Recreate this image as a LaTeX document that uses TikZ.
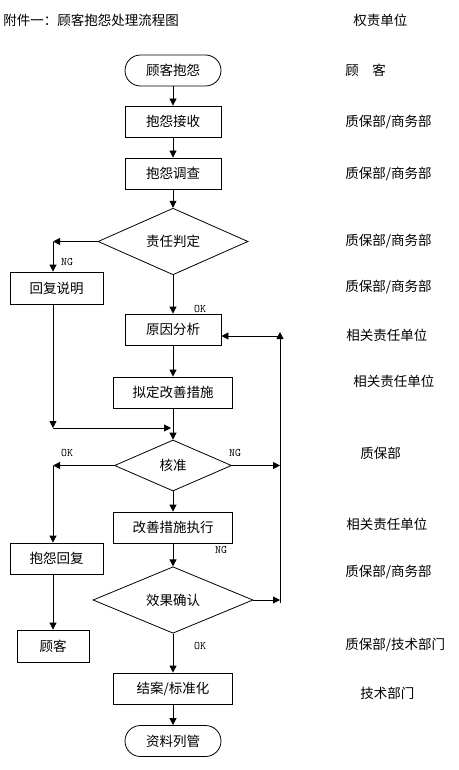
\documentclass[tikz,border=0pt]{standalone}
\usepackage{fontspec}
\setmainfont{Noto Sans CJK SC}
\usetikzlibrary{arrows.meta,shapes.geometric}
\begin{document}
\begin{tikzpicture}[x=1pt,y=-1pt,
  font=\fontsize{13.5}{16}\selectfont, line width=0.8pt,
  box/.style={draw, rectangle, inner sep=0pt, minimum width=96pt, minimum height=31pt},
  term/.style={draw, rectangle, rounded corners=15.5pt, inner sep=0pt, minimum width=96pt, minimum height=31pt},
  dia/.style={draw, diamond, inner sep=0pt},
  arr/.style={-{Triangle[length=7pt,width=7pt]}},
  lab/.style={font=\ttfamily\fontsize{11.5}{12}\selectfont, inner sep=0pt},
  unit/.style={anchor=west, inner sep=0pt}]
\useasboundingbox (0,0) rectangle (458,770);
% title
\node[anchor=west, inner sep=0pt] (title) at (3,20) {附件一：顾客抱怨处理流程图};
\node[unit] (u0) at (353,20) {权责单位};
% nodes
\node[term] (start) at (173,70.5) {顾客抱怨};
\node[box] (recv) at (173,121.5) {抱怨接收};
\node[box] (inv) at (173,173.5) {抱怨调查};
\node[dia, minimum width=150pt, minimum height=61pt] (d1) at (173,241.5) {责任判定};
\node[box, minimum width=93pt, minimum height=32pt] (reply) at (56.5,288) {回复说明};
\node[box] (cause) at (173,329.5) {原因分析};
\node[box, minimum width=119pt] (plan) at (173,392.5) {拟定改善措施};
\node[dia, minimum width=117pt, minimum height=51pt] (d2) at (173,465.5) {核准};
\node[box, minimum width=119pt] (exec) at (173,527.5) {改善措施执行};
\node[box, minimum width=93pt] (creply) at (56.5,558.5) {抱怨回复};
\node[dia, minimum width=160pt, minimum height=52pt] (d3) at (173,600) {效果确认};
\node[box, minimum width=72pt, minimum height=32pt] (cust) at (53,646) {顾客};
\node[box, minimum width=119pt] (close) at (173,688.5) {结案/标准化};
\node[term] (arch) at (173,741) {资料列管};
% helper coordinates
\coordinate (c1) at (53,241.5);
\coordinate (c2) at (53,428);
\coordinate (c3) at (171,428);
\coordinate (c4) at (53,465.5);
\coordinate (c5) at (280,465.5);
\coordinate (c6) at (280,600);
\coordinate (c7) at (280,603);
\coordinate (c8) at (280,332);
\coordinate (c9) at (280,336);
% main flow
\draw[arr] (start) -- (recv);
\draw[arr] (recv) -- (inv);
\draw[arr] (inv) -- (d1);
\draw[arr] (d1.south) -- (cause.north);
\draw[arr] (cause) -- (plan);
\draw[arr] (plan) -- (d2.north);
\draw[arr] (d2.south) -- (exec.north);
\draw[arr] (exec) -- (d3.north);
\draw[arr] (d3.south) -- (close.north);
\draw[arr] (close) -- (arch);
% NG branch of 责任判定
\draw[arr] (d1.west) -- (c1);
\draw[arr] (c1) -- (c1 |- reply.north);
\draw[arr] (c1 |- reply.south) -- (c2);
\draw[arr] (c2) -- (c3);
% 核准 branches
\draw[arr] (d2.west) -- (c4);
\draw[arr] (c4) -- (c4 |- creply.north);
\draw[arr] (c4 |- creply.south) -- (c4 |- cust.north);
\draw[arr] (d2.east) -- (c5);
% 效果确认 NG feedback
\draw[arr] (d3.east) -- (c6);
\draw[arr] (c7) -- (c8);
\draw[arr] (c9) -- (c9 -| cause.east);
% branch labels
\node[lab] (l1) at (67,262) {NG};
\node[lab] (l2) at (200,309) {OK};
\node[lab] (l3) at (67,453) {OK};
\node[lab] (l4) at (235,453) {NG};
\node[lab] (l5) at (221,550) {NG};
\node[lab] (l6) at (200,646) {OK};
% responsibility column
\node[unit] (u1) at (345,70) {顾　客};
\node[unit] (u2) at (345,122) {质保部/商务部};
\node[unit] (u3) at (345,174) {质保部/商务部};
\node[unit] (u4) at (345,241) {质保部/商务部};
\node[unit] (u5) at (345,287) {质保部/商务部};
\node[unit] (u6) at (346,335) {相关责任单位};
\node[unit] (u7) at (353,381) {相关责任单位};
\node[unit] (u8) at (360,453) {质保部};
\node[unit] (u9) at (346,524) {相关责任单位};
\node[unit] (u10) at (345,572) {质保部/商务部};
\node[unit] (u11) at (345,645) {质保部/技术部门};
\node[unit] (u12) at (360,693) {技术部门};
\end{tikzpicture}
\end{document}
